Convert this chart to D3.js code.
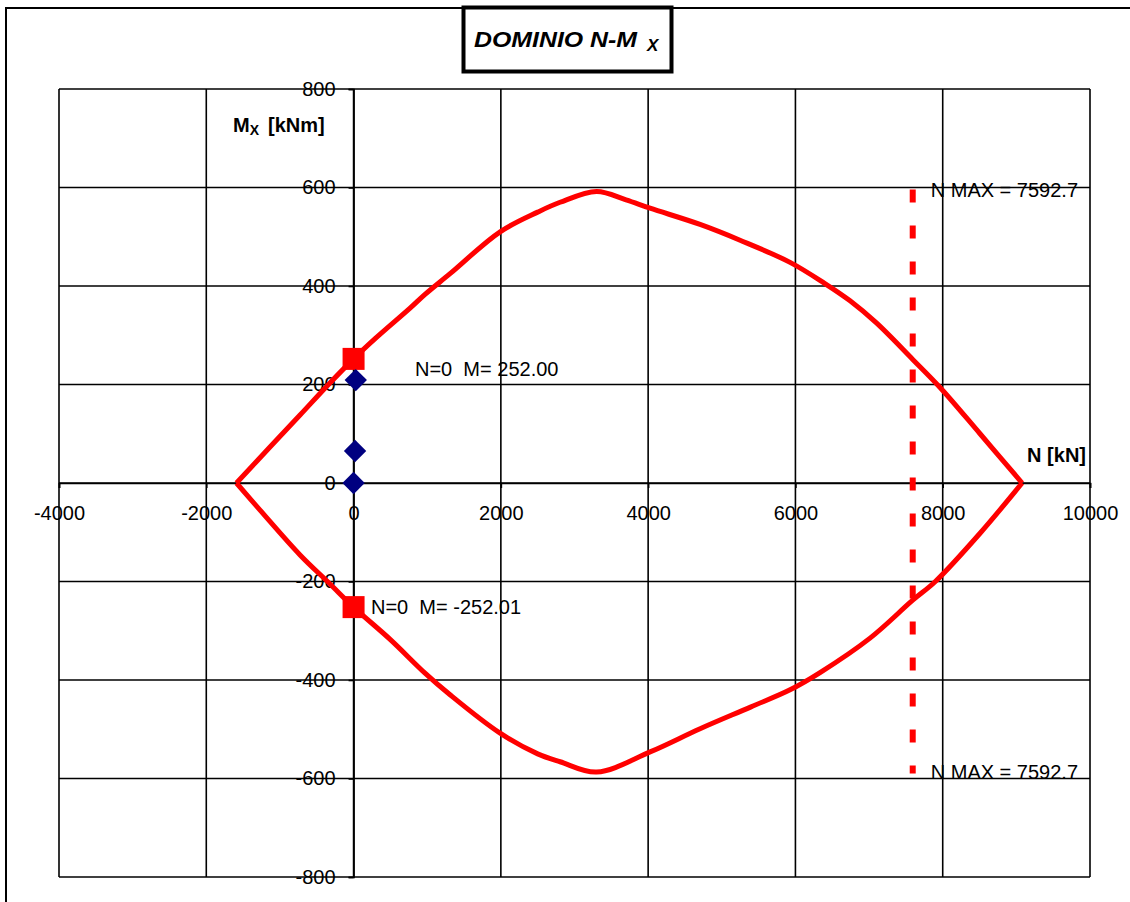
<!DOCTYPE html>
<html>
<head>
<meta charset="utf-8">
<script src="https://cdn.jsdelivr.net/npm/d3@7"></script>
<style>
  html, body { margin: 0; padding: 0; background: #fff; }
  svg { display: block; font-family: "Liberation Sans", Arial, sans-serif; }
  text { white-space: pre; }
</style>
</head>
<body>
<svg id="chart" width="1130" height="902"></svg>
<script>
// ---- data ----
const xTicks = [-4000, -2000, 0, 2000, 4000, 6000, 8000, 10000];
const yTicks = [-800, -600, -400, -200, 0, 200, 400, 600, 800];

// interaction domain: upper branch (left tip -> right tip)
const upperN = [-1590, -1135, -727, -360, 0, 300, 767, 970, 1310, 1990, 2500, 2804, 3300, 3700, 4026, 4705, 5248, 5927, 6400, 6742, 7100, 7592.7, 7964, 8507, 9078];
const upperM = [0, 73, 138, 197, 252, 294, 355, 383, 425, 510, 550, 570, 592, 575, 558, 525, 493, 448, 405, 370, 325, 251, 194, 100, 0];
// lower branch (right tip -> left tip)
const lowerN = [9078, 8507, 7900, 7592.7, 7013, 6334, 5927, 5390, 4705, 4026, 3300, 2804, 2500, 1990, 1310, 970, 500, 0, -320, -727, -1270, -1590];
const lowerM = [0, -102, -200, -238, -315, -385, -420, -455, -499, -546, -587, -566, -550, -508, -430, -386, -318, -252, -205, -146, -55, 0];

// design points (N, M)
const loadN = [30, 20, 0];
const loadM = [209, 65, 0];

// points at N = 0
const zeroN = [0, 0];
const zeroM = [252.00, -252.01];
const zeroLabels = ["N=0  M= 252.00", "N=0  M= -252.01"];

const nMax = 7592.7;
const nMaxM = [600, -600];
const nMaxLabel = "N MAX = 7592.7";

// ---- drawing ----
const svg = d3.select("#chart");
const x = d3.scaleLinear().domain([-4000, 10000]).range([59, 1090]);
const y = d3.scaleLinear().domain([-800, 800]).range([877, 89]);

// outer frame
svg.append("rect").attr("x", 6).attr("y", 8).attr("width", 1140).attr("height", 910)
  .attr("fill", "none").attr("stroke", "#000").attr("stroke-width", 2);

// grid
const grid = svg.append("g");
grid.selectAll("line.v").data(xTicks).join("line")
  .attr("x1", d => x(d)).attr("x2", d => x(d)).attr("y1", y(800)).attr("y2", y(-800))
  .attr("stroke", "#000").attr("stroke-width", 1.6);
grid.selectAll("line.h").data(yTicks).join("line")
  .attr("y1", d => y(d)).attr("y2", d => y(d)).attr("x1", x(-4000)).attr("x2", x(10000))
  .attr("stroke", "#000").attr("stroke-width", 1.6);

// axes through zero
const fmt = d => String(d);
const xAxis = d3.axisBottom(x).tickValues(xTicks).tickSize(5).tickFormat(fmt);
const yAxis = d3.axisLeft(y).tickValues(yTicks).tickSize(5).tickFormat(fmt);
const gx = svg.append("g").attr("transform", `translate(0,${y(0)})`).call(xAxis);
const gy = svg.append("g").attr("transform", `translate(${x(0)},0)`).call(yAxis);
[gx, gy].forEach(g => {
  g.select(".domain").attr("stroke", "#000").attr("stroke-width", 1.6);
  g.selectAll(".tick line").attr("stroke", "#000").attr("stroke-width", 1.6);
  g.selectAll(".tick text").attr("fill", "#000").attr("font-size", 20)
    .attr("font-family", "'Liberation Sans', Arial, sans-serif");
});
gx.selectAll(".tick text").attr("dy", "0.71em").attr("y", 23);
gy.selectAll(".tick text").attr("x", -18);

// domain curve
const line = d3.line().x(d => x(d[0])).y(d => y(d[1])).curve(d3.curveCatmullRom.alpha(0.5));
[[upperN, upperM], [lowerN, lowerM]].forEach(([ns, ms]) => {
  svg.append("path").attr("d", line(ns.map((n, i) => [n, ms[i]]))).attr("fill", "none")
    .attr("stroke", "#ff0000").attr("stroke-width", 5).attr("stroke-linejoin", "miter");
});

// N max dashed line
svg.append("line").attr("x1", x(nMax)).attr("x2", x(nMax))
  .attr("y1", y(nMaxM[0]) + 2).attr("y2", y(nMaxM[1]) - 5)
  .attr("stroke", "#ff0000").attr("stroke-width", 6).attr("stroke-dasharray", "13,23");
svg.selectAll("text.nmax").data(nMaxM).join("text")
  .attr("x", x(nMax) + 18).attr("y", (d, i) => y(d) + (i === 0 ? 2.5 : -6.5))
  .attr("dy", "0.36em").attr("font-size", 20).attr("fill", "#000").text(nMaxLabel);

// red squares at N=0
svg.selectAll("rect.zero").data(zeroN.map((n, i) => [n, zeroM[i]])).join("rect")
  .attr("x", d => x(d[0]) - 11).attr("y", d => y(d[1]) - 11)
  .attr("width", 22).attr("height", 22).attr("fill", "#ff0000");
svg.append("text").attr("x", 415).attr("y", y(zeroM[0]) + 10).attr("dy", "0.36em")
  .attr("font-size", 20).attr("fill", "#000").text(zeroLabels[0]);
svg.append("text").attr("x", 371).attr("y", y(zeroM[1]) - 0.5).attr("dy", "0.36em")
  .attr("font-size", 20).attr("fill", "#000").text(zeroLabels[1]);

// blue diamonds
const sym = d3.symbol().type(d3.symbolSquare).size(250);
svg.selectAll("path.load").data(loadN.map((n, i) => [n, loadM[i]])).join("path")
  .attr("d", sym)
  .attr("transform", d => `translate(${x(d[0])},${y(d[1])}) rotate(45)`)
  .attr("fill", "#000080");

// axis titles
const mt = svg.append("text").attr("x", 233).attr("y", 132).attr("font-size", 20)
  .attr("font-weight", "bold").attr("fill", "#000");
mt.append("tspan").text("M");
mt.append("tspan").attr("font-size", 14).attr("dy", 3).text("X");
mt.append("tspan").attr("dy", -3).attr("x", 268).text("[kNm]");

svg.append("text").attr("x", 1086).attr("y", 462).attr("text-anchor", "end")
  .attr("font-size", 20).attr("font-weight", "bold").attr("fill", "#000").text("N [kN]");

// title box
svg.append("rect").attr("x", 463.5).attr("y", 7.5).attr("width", 208).attr("height", 64)
  .attr("fill", "#fff").attr("stroke", "#000").attr("stroke-width", 4);
svg.append("text").attr("x", 474).attr("y", 47).attr("font-size", 22)
  .attr("font-weight", "bold").attr("font-style", "italic").attr("fill", "#000")
  .attr("textLength", 163).attr("lengthAdjust", "spacingAndGlyphs").text("DOMINIO N-M");
svg.append("text").attr("x", 647).attr("y", 51).attr("font-size", 17)
  .attr("font-weight", "bold").attr("font-style", "italic").attr("fill", "#000").text("X");
</script>
</body>
</html>
